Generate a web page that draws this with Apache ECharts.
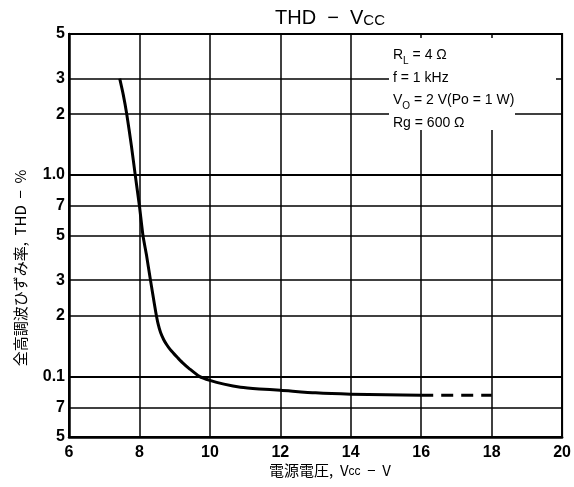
<!DOCTYPE html>
<html><head><meta charset="utf-8">
<script src="https://cdn.jsdelivr.net/npm/echarts@6/dist/echarts.min.js"></script>
<style>html,body{margin:0;padding:0;background:#fff}#c{width:574px;height:487px}</style>
</head><body><div id="c"></div>
<script>
const curveX = [7.44, 7.54, 7.64, 7.77, 7.88, 8.0, 8.1, 8.2, 8.3, 8.38, 8.46, 8.53, 8.6, 8.69, 8.78, 8.87, 8.97, 9.08, 9.22, 9.42, 9.7, 10, 10.4, 10.87, 11.4, 12, 13, 14, 15, 16];
const curveY = [3.0, 2.5, 2.0, 1.4, 1.0, 0.7, 0.5, 0.4, 0.31, 0.255, 0.21, 0.182, 0.165, 0.152, 0.143, 0.136, 0.13, 0.124, 0.117, 0.109, 0.1, 0.0955, 0.0915, 0.0883, 0.0866, 0.0853, 0.0828, 0.0815, 0.081, 0.0805];
const dashX = [16, 18];
const dashY = [0.0805, 0.0805];
const yTickValues = [5, 3, 2, 1, 0.7, 0.5, 0.3, 0.2, 0.1, 0.07, 0.05];
const yTickLabels = ['5', '3', '2', '1.0', '7', '5', '3', '2', '0.1', '7', '5'];
const conditions = ['R{s|L} = 4 Ω', 'f = 1 kHz', 'V{s|O} = 2 V(Po = 1 W)', 'Rg = 600 Ω'];

const chart = echarts.init(document.getElementById('c'));
const markData = yTickValues.map((v, i) => ({
  yAxis: v,
  lineStyle: {width: (v === 1 || v === 0.1) ? 2.2 : 1.5},
  label: {formatter: yTickLabels[i]}
}));
chart.setOption({
  animation: false,
  backgroundColor: '#fff',
  grid: {left: 69, right: 11, top: 34, bottom: 50, show: true, borderColor: '#000', borderWidth: 2},
  xAxis: {
    type: 'value', min: 6, max: 20, interval: 2,
    axisLine: {lineStyle: {color: '#000', width: 2.5}},
    axisTick: {show: false},
    splitLine: {show: true, lineStyle: {color: '#000', width: 1.5}},
    axisLabel: {color: '#000', fontSize: 16, fontWeight: 'bold', fontFamily: 'Liberation Sans', margin: 8}
  },
  yAxis: {
    type: 'log', logBase: 10, min: 0.05, max: 5,
    axisLine: {show: true, lineStyle: {color: '#000', width: 2.5}},
    axisTick: {show: false},
    splitLine: {show: false},
    axisLabel: {show: false}
  },
  series: [
    {
      type: 'line', symbol: 'none', smooth: 0.2,
      data: curveX.map((x, i) => [x, curveY[i]]),
      lineStyle: {color: '#000', width: 3, join: 'round'},
      z: 5,
      markLine: {
        silent: true, symbol: 'none', animation: false,
        lineStyle: {color: '#000', type: 'solid', width: 1.5},
        label: {show: true, position: 'start', distance: 4, color: '#000', fontSize: 16, fontWeight: 'bold', fontFamily: 'Liberation Sans'},
        emphasis: {disabled: true},
        data: markData
      }
    },
    {
      type: 'line', symbol: 'none',
      data: dashX.map((x, i) => [x, dashY[i]]),
      lineStyle: {color: '#000', width: 3, type: [12, 8]},
      z: 5
    }
  ],
  graphic: [
    {type: 'rect', z: 50, shape: {x: 389, y: 38, width: 167, height: 72}, style: {fill: '#fff'}},
    {type: 'rect', z: 50, shape: {x: 389, y: 108, width: 126, height: 22}, style: {fill: '#fff'}},
    {type: 'text', z: 60, x: 393, y: 44, style: {
      text: conditions.join('\n'), fill: '#000', fontSize: 14, fontFamily: 'Liberation Sans', lineHeight: 22.5,
      rich: {s: {fontSize: 10, verticalAlign: 'bottom', padding: [4, 0, 0, 0]}}
    }},
    {type: 'text', z: 60, x: 330, y: 18, style: {
      text: '{a|THD  −  V}{b|CC}', align: 'center', verticalAlign: 'middle',
      rich: {a: {fontSize: 20, fontFamily: 'Liberation Sans', fill: '#000'}, b: {fontSize: 15, fontFamily: 'Liberation Sans', fill: '#000', padding: [5, 0, 0, 0]}}
    }},
    {type: 'text', z: 60, x: 330, y: 470, style: {
      text: '{a|電源電圧,  V}{b|cc}{a|  −  V}', align: 'center', verticalAlign: 'middle',
      rich: {a: {fontSize: 15, fontFamily: 'Noto Sans CJK JP', fill: '#000'}, b: {fontSize: 12, fontFamily: 'Liberation Sans', fill: '#000', padding: [4, 0, 0, 0]}}
    }},
    {type: 'text', z: 60, x: 20, y: 268, rotation: Math.PI / 2, style: {
      text: '全高調波ひずみ率,  THD  −  %', align: 'center', verticalAlign: 'middle',
      fontSize: 15, fontFamily: 'Noto Sans CJK JP', fill: '#000'
    }}
  ]
});
</script></body></html>
